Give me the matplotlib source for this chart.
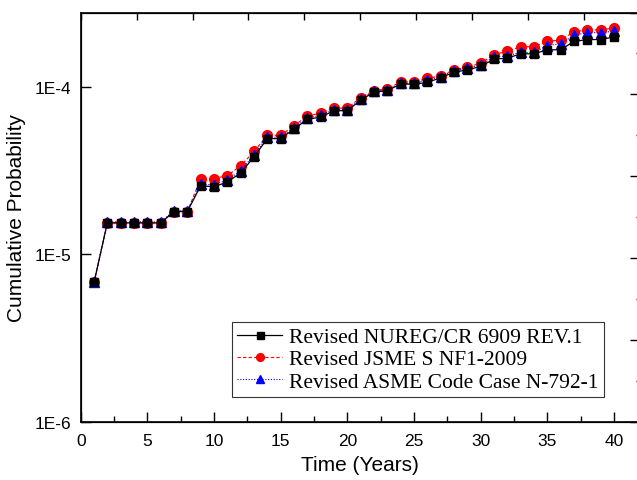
import matplotlib
matplotlib.use("Agg")
import matplotlib.pyplot as plt
from matplotlib.ticker import FixedLocator, NullFormatter, MultipleLocator

years = list(range(1, 41))

nureg = [6.8e-6, 1.54e-5, 1.54e-5, 1.54e-5, 1.54e-5, 1.54e-5, 1.80e-5, 1.80e-5,
         2.565e-5, 2.53e-5, 2.70e-5, 3.06e-5, 3.81e-5, 4.90e-5, 4.90e-5, 5.59e-5,
         6.38e-5, 6.59e-5, 7.19e-5, 7.19e-5, 8.31e-5, 9.29e-5, 9.48e-5, 1.036e-4,
         1.036e-4, 1.06e-4, 1.13e-4, 1.22e-4, 1.26e-4, 1.32e-4, 1.46e-4, 1.48e-4,
         1.57e-4, 1.57e-4, 1.66e-4, 1.66e-4, 1.86e-4, 1.91e-4, 1.91e-4, 1.98e-4]

jsme = [6.8e-6, 1.54e-5, 1.54e-5, 1.54e-5, 1.54e-5, 1.54e-5, 1.80e-5, 1.80e-5,
        2.83e-5, 2.83e-5, 2.95e-5, 3.37e-5, 4.11e-5, 5.13e-5, 5.13e-5, 5.85e-5,
        6.68e-5, 6.97e-5, 7.45e-5, 7.45e-5, 8.61e-5, 9.48e-5, 9.70e-5, 1.068e-4,
        1.068e-4, 1.12e-4, 1.16e-4, 1.26e-4, 1.31e-4, 1.38e-4, 1.55e-4, 1.63e-4,
        1.73e-4, 1.73e-4, 1.86e-4, 1.90e-4, 2.12e-4, 2.18e-4, 2.18e-4, 2.24e-4]

asme = [6.8e-6, 1.56e-5, 1.56e-5, 1.56e-5, 1.56e-5, 1.56e-5, 1.82e-5, 1.82e-5,
        2.62e-5, 2.60e-5, 2.78e-5, 3.15e-5, 3.92e-5, 5.00e-5, 5.00e-5, 5.70e-5,
        6.50e-5, 6.75e-5, 7.30e-5, 7.30e-5, 8.45e-5, 9.40e-5, 9.60e-5, 1.05e-4,
        1.05e-4, 1.09e-4, 1.15e-4, 1.24e-4, 1.29e-4, 1.35e-4, 1.50e-4, 1.53e-4,
        1.60e-4, 1.60e-4, 1.76e-4, 1.80e-4, 2.03e-4, 2.10e-4, 2.10e-4, 2.14e-4]

labels = ["Revised NUREG/CR 6909 REV.1", "Revised JSME S NF1-2009",
          "Revised ASME Code Case N-792-1"]
xticks = [0, 5, 10, 15, 20, 25, 30, 35, 40]
yticks = [1e-6, 1e-5, 1e-4]
ytick_labels = ["1E-6", "1E-5", "1E-4"]

W, H = 637, 481
fig = plt.figure(figsize=(W / 100, H / 100), dpi=100)
left, right, top, bottom = 80.7, 640.0, 13.5, 423.0
pos = [left / W, (H - bottom) / H, (right - left) / W, (bottom - top) / H]
ax = fig.add_axes(pos)

sans = "Liberation Sans"
serif = "Liberation Serif"

l2, = ax.plot(years, jsme, linestyle=(0, (3, 2)), color="red", lw=0.8,
              marker="o", markersize=7, markerfacecolor="red",
              markeredgecolor="red", zorder=3)
l3, = ax.plot(years, asme, linestyle=(0, (1, 1.5)), color="blue", lw=0.8,
              marker="^", markersize=7, markerfacecolor="blue",
              markeredgecolor="blue", zorder=4)
l1, = ax.plot(years, nureg, linestyle="-", color="black", lw=0.9,
              marker="s", markersize=6.3, markerfacecolor="black",
              markeredgecolor="black", zorder=5)

ax.set_yscale("log")
ax.set_xlim(0, (right - left) / 13.33)
ax.set_ylim(1e-6, 2.77e-4)

ax.xaxis.set_major_locator(FixedLocator(xticks))
ax.xaxis.set_minor_locator(MultipleLocator(2.5))
ax.set_xticklabels([str(t) for t in xticks], fontfamily=sans, fontsize=12.5)
ax.yaxis.set_major_locator(FixedLocator(yticks))
ax.yaxis.set_minor_locator(FixedLocator([]))
ax.set_yticklabels(ytick_labels, fontfamily=sans, fontsize=12.5)
ax.yaxis.set_minor_formatter(NullFormatter())

ax.tick_params(axis="both", which="major", direction="in", length=7, width=1,
               top=False, right=False)
ax.tick_params(axis="x", which="major", pad=8)
ax.tick_params(axis="y", which="major", pad=7)
ax.tick_params(axis="x", which="minor", direction="in", length=4, width=1,
               top=False)
ax.tick_params(axis="y", which="minor", length=0)

ax.set_xlabel("Time (Years)", fontfamily=sans, fontsize=15, labelpad=5)
ax.set_ylabel("Cumulative Probability", fontfamily=sans, fontsize=15)
ax.yaxis.set_label_coords((26 - left) / (right - left), 0.5)

for s in ax.spines.values():
    s.set_linewidth(1.2)

# secondary layer axes (top and right ticks)
axt = ax.twiny()
axt.set_xlim(0, 10)
axt.xaxis.set_major_locator(MultipleLocator(1))
axt.tick_params(axis="x", direction="in", length=5, width=1, labeltop=False)
axr = ax.twinx()
axr.set_ylim(0, 5)
axr.yaxis.set_major_locator(MultipleLocator(1))
axr.yaxis.set_minor_locator(MultipleLocator(0.5))
axr.tick_params(axis="y", which="major", direction="in", length=7, width=1,
                labelright=False)
axr.tick_params(axis="y", which="minor", direction="in", length=3, width=1)

leg = ax.legend([l1, l2, l3], labels, loc="lower left",
                bbox_to_anchor=(0.27, 0.061), borderaxespad=0,
                prop={"family": serif, "size": 15.5}, frameon=True,
                fancybox=False, edgecolor="black", handlelength=2.1,
                handletextpad=0.3, borderpad=0.25, labelspacing=0.1,
                markerscale=0.8)
leg.get_frame().set_linewidth(0.8)
leg.set_zorder(10)

fig.savefig("out.png", dpi=100)
